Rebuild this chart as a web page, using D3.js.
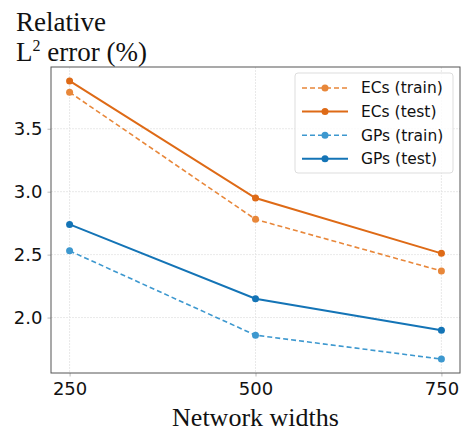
<!DOCTYPE html>
<html>
<head>
<meta charset="utf-8">
<script src="https://cdn.jsdelivr.net/npm/d3@7"></script>
<style>
  body { margin: 0; background: #fff; }
  svg { display: block; }
</style>
</head>
<body>
<svg id="chart"></svg>
<script>
const widths = [250, 500, 750]
const ecsTrain = [3.79, 2.78, 2.37]
const ecsTest = [3.88, 2.95, 2.51]
const gpsTrain = [2.53, 1.86, 1.67]
const gpsTest = [2.74, 2.15, 1.90]
const yTicks = [2.0, 2.5, 3.0, 3.5]

const series = [
    {name: "ECs (train)", values: ecsTrain, color: "#e8873a", dash: "5,3", lw: 1.6},
    {name: "ECs (test)", values: ecsTest, color: "#de6a16", dash: null, lw: 2},
    {name: "GPs (train)", values: gpsTrain, color: "#3d98cf", dash: "5,3", lw: 1.6},
    {name: "GPs (test)", values: gpsTest, color: "#1474b6", dash: null, lw: 2}
]

const W = 467, H = 433
const m = {t: 67, b: 60, l: 51, r: 7}

const svg = d3.select("#chart")
    .attr("width", W)
    .attr("height", H)

// 5% margins like matplotlib
const xPad = (d3.max(widths) - d3.min(widths)) * 0.05
const xScale = d3.scaleLinear()
    .domain([d3.min(widths) - xPad, d3.max(widths) + xPad])
    .range([m.l, W - m.r])

const allVals = series.flatMap(s => s.values)
const [lo, hi] = d3.extent(allVals)
const pad = (hi - lo) * 0.05
const yScale = d3.scaleLinear()
    .domain([lo - pad, hi + pad])
    .range([H - m.b, m.t])

// grid
const grid = svg.append("g")
grid.selectAll(".gx")
    .data(widths)
    .join("line")
    .attr("x1", d => xScale(d)).attr("x2", d => xScale(d))
    .attr("y1", m.t).attr("y2", H - m.b)
    .attr("stroke", "#e3e3e3").attr("stroke-width", 0.8)
    .attr("stroke-dasharray", "2,1")
grid.selectAll(".gy")
    .data(yTicks)
    .join("line")
    .attr("y1", d => yScale(d)).attr("y2", d => yScale(d))
    .attr("x1", m.l).attr("x2", W - m.r)
    .attr("stroke", "#e3e3e3").attr("stroke-width", 0.8)
    .attr("stroke-dasharray", "2,1")

// axes
const xAxis = svg.append("g")
    .attr("transform", `translate(0, ${H - m.b})`)
    .call(d3.axisBottom(xScale).tickValues(widths).tickSize(3.5).tickPadding(6))
const yAxis = svg.append("g")
    .attr("transform", `translate(${m.l}, 0)`)
    .call(d3.axisLeft(yScale).tickValues(yTicks).tickFormat(d3.format(".1f")).tickSize(3.5).tickPadding(5))

for (const ax of [xAxis, yAxis]) {
    ax.select(".domain").remove()
    ax.selectAll(".tick line").attr("stroke", "#bbb")
    ax.selectAll("text")
        .attr("font-family", "DejaVu Sans")
        .attr("font-size", 18)
        .attr("fill", "#111")
}

svg.append("rect")
    .attr("x", m.l).attr("y", m.t)
    .attr("width", W - m.r - m.l).attr("height", H - m.b - m.t)
    .attr("fill", "none").attr("stroke", "#555").attr("stroke-width", 1)

// lines
const line = d3.line()
    .x((d, i) => xScale(widths[i]))
    .y(d => yScale(d))

series.forEach(s => {
    svg.append("path")
        .datum(s.values)
        .attr("d", line)
        .attr("fill", "none")
        .attr("stroke", s.color)
        .attr("stroke-width", s.lw)
        .attr("stroke-dasharray", s.dash)
    svg.append("g").selectAll("circle")
        .data(s.values)
        .join("circle")
        .attr("cx", (d, i) => xScale(widths[i]))
        .attr("cy", d => yScale(d))
        .attr("r", 3.5)
        .attr("fill", s.color)
})

// legend
const legend = svg.append("g").attr("transform", "translate(295, 73)")
legend.append("rect")
    .attr("width", 158).attr("height", 100)
    .attr("rx", 3)
    .attr("fill", "#fff").attr("fill-opacity", 0.8)
    .attr("stroke", "#ddd")
series.forEach((s, i) => {
    const y = 15 + i * 23.6
    legend.append("line")
        .attr("x1", 7).attr("x2", 53)
        .attr("y1", y).attr("y2", y)
        .attr("stroke", s.color).attr("stroke-width", s.lw)
        .attr("stroke-dasharray", s.dash)
    legend.append("circle")
        .attr("cx", 30).attr("cy", y).attr("r", 3.5)
        .attr("fill", s.color)
    legend.append("text")
        .attr("x", 66).attr("y", y)
        .attr("dy", "0.35em")
        .attr("font-family", "DejaVu Sans")
        .attr("font-size", 15.5)
        .attr("fill", "#111")
        .text(s.name)
})

// labels
svg.append("text")
    .attr("x", 16).attr("y", 31)
    .attr("font-family", "Liberation Serif")
    .attr("font-size", 27)
    .attr("fill", "#111")
    .text("Relative")
const title2 = svg.append("text")
    .attr("x", 16).attr("y", 61)
    .attr("font-family", "Liberation Serif")
    .attr("font-size", 27)
    .attr("fill", "#111")
title2.append("tspan").text("L")
title2.append("tspan").attr("dy", -10).attr("font-size", 16).text("2")
title2.append("tspan").attr("dy", 10).text(" error (%)")

svg.append("text")
    .attr("x", (m.l + W - m.r) / 2)
    .attr("y", 426)
    .attr("text-anchor", "middle")
    .attr("font-family", "Liberation Serif")
    .attr("font-size", 26)
    .attr("fill", "#111")
    .text("Network widths")
</script>
</body>
</html>
